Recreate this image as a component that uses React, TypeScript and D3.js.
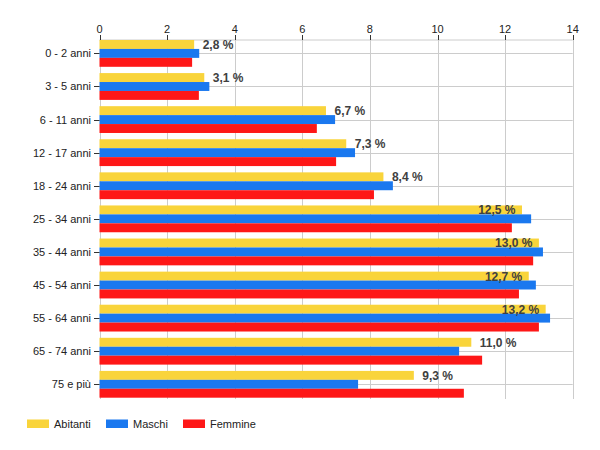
import { useEffect, useRef } from 'react'
import * as d3 from 'd3'

const categories = [
  '0 - 2 anni', '3 - 5 anni', '6 - 11 anni', '12 - 17 anni', '18 - 24 anni',
  '25 - 34 anni', '35 - 44 anni', '45 - 54 anni', '55 - 64 anni', '65 - 74 anni', '75 e più'
]
const seriesNames = ['Abitanti', 'Maschi', 'Femmine']
const seriesColors = ['#f9d43b', '#1a78ef', '#fe1717']
const abitanti = [2.8, 3.1, 6.7, 7.3, 8.4, 12.5, 13.0, 12.7, 13.2, 11.0, 9.3]
const maschi = [2.95, 3.25, 6.97, 7.56, 8.68, 12.77, 13.12, 12.91, 13.33, 10.64, 7.65]
const femmine = [2.74, 2.94, 6.43, 7.0, 8.12, 12.2, 12.83, 12.41, 13.0, 11.32, 10.78]
const xTicks = [0, 2, 4, 6, 8, 10, 12, 14]

const FONT = 'Arial, "Liberation Sans", sans-serif'

export default function App() {
  const svgRef = useRef<SVGSVGElement>(null)
  const width = 600
  const height = 450

  useEffect(() => {
    if (!svgRef.current) return
    const svg = d3.select(svgRef.current)
    svg.selectAll('*').remove()

    const plot = { left: 99.5, right: 572.7, top: 40, bottom: 399 }
    const series = [abitanti, maschi, femmine]

    const x = d3.scaleLinear().domain([0, 14]).range([plot.left, plot.right])
    const y = d3.scaleBand<string>()
      .domain(categories)
      .range([plot.top, plot.bottom - 1.3])
      .paddingInner(0.19)
      .paddingOuter(0)
    const ySub = d3.scaleBand<number>()
      .domain(d3.range(seriesNames.length))
      .range([0, y.bandwidth()])

    // Gridlines
    svg.append('line')
      .attr('x1', plot.left).attr('x2', plot.right)
      .attr('y1', plot.top).attr('y2', plot.top)
      .style('stroke', '#cccccc')
    categories.forEach(c => {
      const cy = Math.round(y(c)! + y.bandwidth() / 2) + 0.5
      svg.append('line')
        .attr('x1', plot.left).attr('x2', plot.right)
        .attr('y1', cy).attr('y2', cy)
        .style('stroke', '#cccccc')
    })
    xTicks.forEach(t => {
      const tx = Math.round(x(t)) + 0.5
      svg.append('line')
        .attr('x1', tx).attr('x2', tx)
        .attr('y1', plot.top).attr('y2', plot.bottom)
        .style('stroke', '#cccccc')
      svg.append('line')
        .attr('x1', tx).attr('x2', tx)
        .attr('y1', plot.top - 5).attr('y2', plot.top)
        .style('stroke', '#333333')
      svg.append('text')
        .attr('x', x(t))
        .attr('y', plot.top - 7)
        .attr('text-anchor', 'middle')
        .style('fill', '#222222')
        .style('font-size', '11px')
        .style('font-family', FONT)
        .text(String(t))
    })

    // Bars
    series.forEach((values, si) => {
      svg.selectAll(`rect.s${si}`)
        .data(values)
        .enter()
        .append('rect')
        .attr('class', `s${si}`)
        .attr('x', x(0))
        .attr('y', (_, i) => y(categories[i])! + ySub(si)!)
        .attr('width', d => x(d) - x(0))
        .attr('height', ySub.bandwidth())
        .style('fill', seriesColors[si])
    })

    // Category labels and ticks
    categories.forEach(c => {
      const cy = y(c)! + y.bandwidth() / 2
      svg.append('line')
        .attr('x1', plot.left - 5.5).attr('x2', plot.left)
        .attr('y1', Math.round(cy) + 0.5).attr('y2', Math.round(cy) + 0.5)
        .style('stroke', '#333333')
      svg.append('text')
        .attr('x', plot.left - 8.5)
        .attr('y', cy + 4)
        .attr('text-anchor', 'end')
        .style('fill', '#222222')
        .style('font-size', '11px')
        .style('font-family', FONT)
        .text(c)
    })

    // Annotations on Abitanti
    abitanti.forEach((v, i) => {
      const inside = v >= 12
      const end = x(v)
      svg.append('text')
        .attr('x', inside ? end - 6.5 : end + 8.5)
        .attr('y', y(categories[i])! + ySub.bandwidth())
        .attr('text-anchor', inside ? 'end' : 'start')
        .style('fill', '#404040')
        .style('font-size', '12px')
        .style('font-weight', 'bold')
        .style('font-family', FONT)
        .text(`${v.toFixed(1).replace('.', ',')} %`)
    })

    // Legend
    const legendX = [27, 106, 183]
    seriesNames.forEach((name, si) => {
      svg.append('rect')
        .attr('x', legendX[si])
        .attr('y', 419.5)
        .attr('width', 22)
        .attr('height', 8.5)
        .style('fill', seriesColors[si])
      svg.append('text')
        .attr('x', legendX[si] + 27)
        .attr('y', 428)
        .style('fill', '#222222')
        .style('font-size', '11px')
        .style('font-family', FONT)
        .text(name)
    })
  }, [])

  return (
    <div style={{ position: 'absolute', left: 0, top: 0, background: '#ffffff' }}>
      <svg ref={svgRef} width={width} height={height} />
    </div>
  )
}
